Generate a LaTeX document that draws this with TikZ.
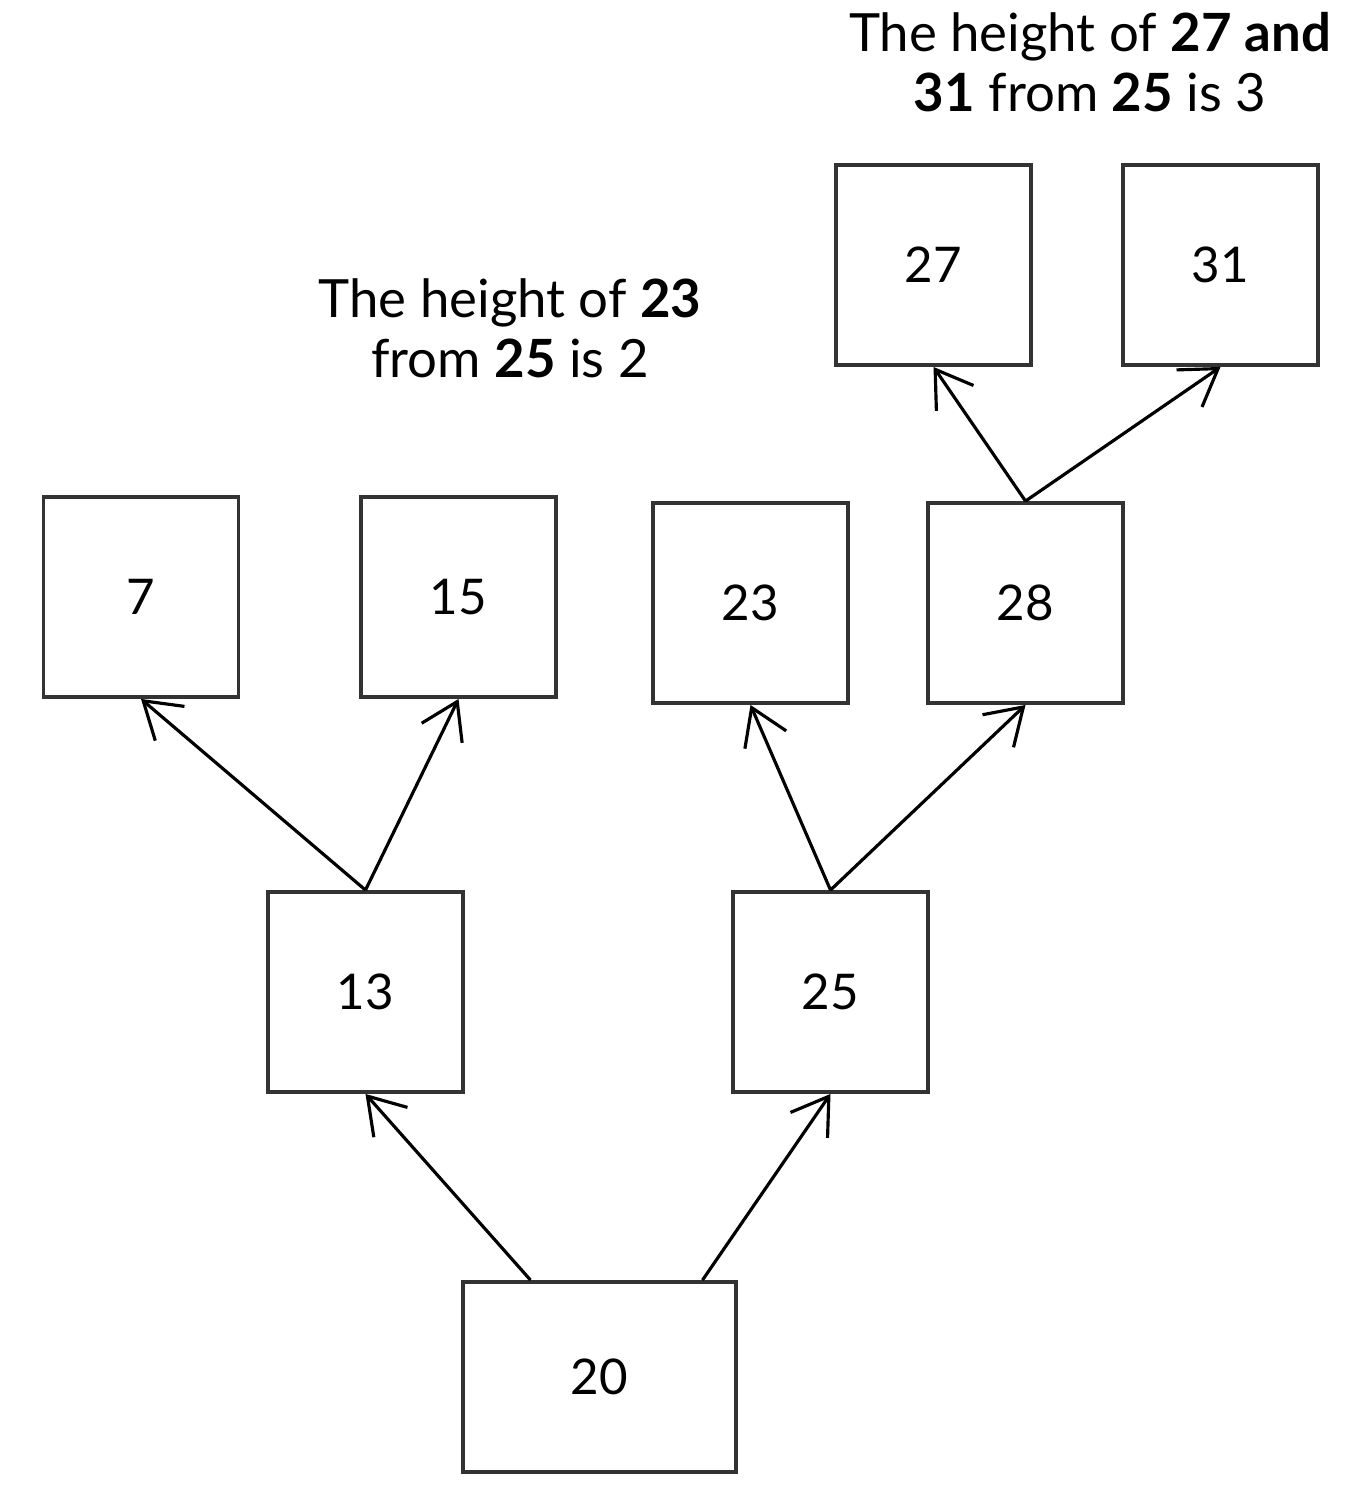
\documentclass[tikz,border=0pt]{standalone}
\usepackage{fontspec}
\setmainfont{Lato}
\usetikzlibrary{arrows.meta}

\begin{document}
\begin{tikzpicture}[
    box/.style={draw=black!80, line width=1.1pt, minimum width=1.95cm, minimum height=2cm, font=\fontsize{14}{16}\selectfont},
    edge/.style={-{Straight Barb[length=0.35cm, width=0.45cm]}, line width=0.9pt},
    note/.style={align=center, font=\fontsize{15}{17}\selectfont}
]
            \useasboundingbox (0, 0) rectangle (13.6, -14.92);
            \node[box] (n7) at (1.41, -5.97) {7};
            \node[box] (n15) at (4.585, -5.97) {15};
            \node[box] (n23) at (7.505, -6.03) {23};
            \node[box] (n28) at (10.255, -6.03) {28};
            \node[box] (n27) at (9.335, -2.65) {27};
            \node[box] (n31) at (12.205, -2.65) {31};
            \node[box] (n13) at (3.655, -9.92) {13};
            \node[box] (n25) at (8.305, -9.92) {25};
            \node[box, minimum width=2.73cm, minimum height=1.9cm] (n20) at (5.995, -13.77) {20};
            \draw [edge] (n13.north) -- (n7.south);
            \draw [edge] (n13.north) -- (n15.south);
            \draw [edge] (n25.north) -- (n23.south);
            \draw [edge] (n25.north) -- (n28.south);
            \draw [edge] (n28.north) -- (n27.south);
            \draw [edge] (n28.north) -- (n31.south);
            \draw [edge] ([xshift=-0.69cm]n20.north) -- (n13.south);
            \draw [edge] ([xshift=1.03cm]n20.north) -- (n25.south);
            \node[note] (note23) at (5.1, -3.28) {The height of \textbf{23}\\ from \textbf{25} is 2};
            \node[note] (note2731) at (10.9, -0.62) {The height of \textbf{27 and}\\ \textbf{31} from \textbf{25} is 3};
        \end{tikzpicture}
\end{document}
